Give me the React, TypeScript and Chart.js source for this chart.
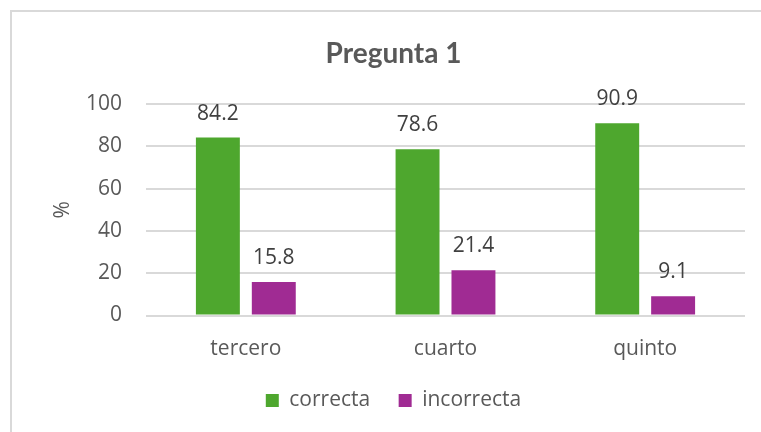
import React, { useEffect, useRef } from "react";
import { Chart, registerables } from "chart.js";

Chart.register(...registerables);

const categories = ["tercero", "cuarto", "quinto"];
const correcta = [84.2, 78.6, 90.9];
const incorrecta = [15.8, 21.4, 9.1];
const yTicks = [0, 20, 40, 60, 80, 100];

const TEXT = "#595959";
const FONT = "'Open Sans', sans-serif";

const valueLabels = {
  id: "valueLabels",
  afterDatasetsDraw(chart: any) {
    const ctx = chart.ctx;
    ctx.save();
    ctx.font = `21px ${FONT}`;
    ctx.fillStyle = "#404040";
    ctx.textAlign = "center";
    ctx.textBaseline = "alphabetic";
    chart.data.datasets.forEach((ds: any, i: number) => {
      const meta = chart.getDatasetMeta(i);
      meta.data.forEach((bar: any, j: number) => {
        ctx.fillText(Number(ds.data[j]).toFixed(1), bar.x, bar.y - 18);
      });
    });
    ctx.restore();
  },
};

export default function App() {
  const ref = useRef<HTMLCanvasElement | null>(null);
  useEffect(() => {
    if (!ref.current) return;
    const chart = new Chart(ref.current, {
      type: "bar",
      data: {
        labels: categories,
        datasets: [
          { label: "correcta", data: correcta, backgroundColor: "#4EA72E", yAxisID: "y" },
          { label: "incorrecta", data: incorrecta, backgroundColor: "#A02B93", yAxisID: "y" },
        ],
      },
      options: {
        responsive: false,
        animation: false,
        devicePixelRatio: 1,
        layout: { padding: { left: 11, right: 14, top: 0, bottom: 11 } },
        datasets: { bar: { categoryPercentage: 0.56, barPercentage: 0.786 } },
        plugins: {
          title: {
            display: true,
            text: "Pregunta 1",
            color: TEXT,
            font: { family: "Lato, sans-serif", size: 28, weight: "bold" },
            padding: { top: 37, bottom: 33.5 },
          },
          legend: {
            position: "bottom",
            labels: {
              color: TEXT,
              font: { family: FONT, size: 21 },
              boxWidth: 13,
              boxHeight: 13,
              padding: 28.5,
            },
          },
          tooltip: { enabled: false },
        },
        scales: {
          x: {
            grid: { display: false, drawTicks: false },
            border: { display: false },
            ticks: { color: TEXT, font: { family: FONT, size: 21 }, padding: 21 },
            afterFit: (s: any) => { s.height = 46; },
          },
          y: {
            min: 0,
            max: 100,
            afterBuildTicks: (s: any) => { s.ticks = yTicks.map((v) => ({ value: v })); },
            grid: { color: "#d9d9d9", lineWidth: 2, drawTicks: false },
            border: { display: false },
            ticks: { color: TEXT, font: { family: FONT, size: 21 }, padding: 24 },
            title: {
              display: true,
              text: "%",
              color: TEXT,
              font: { family: FONT, size: 21 },
              padding: { top: 39.5, bottom: 0 },
            },
            afterFit: (s: any) => { s.width = 135; },
          },
          y2: {
            type: "linear",
            position: "right",
            display: true,
            grid: { display: false, drawTicks: false },
            border: { display: false },
            ticks: { display: false },
            afterFit: (s: any) => { s.width = 31; },
          },
        },
      },
      plugins: [valueLabels],
    } as any);
    return () => chart.destroy();
  }, []);

  return (
    <div style={{ position: "absolute", left: 0, top: 0, width: 761, height: 432, overflow: "hidden", background: "#fff" }}>
      <div
        style={{
          position: "absolute",
          left: 10,
          top: 10,
          width: 780,
          height: 450,
          border: "2px solid #d9d9d9",
          boxSizing: "border-box",
        }}
      />
      <canvas ref={ref} width={790} height={432} style={{ position: "absolute", left: 0, top: 0 }} />
    </div>
  );
}
